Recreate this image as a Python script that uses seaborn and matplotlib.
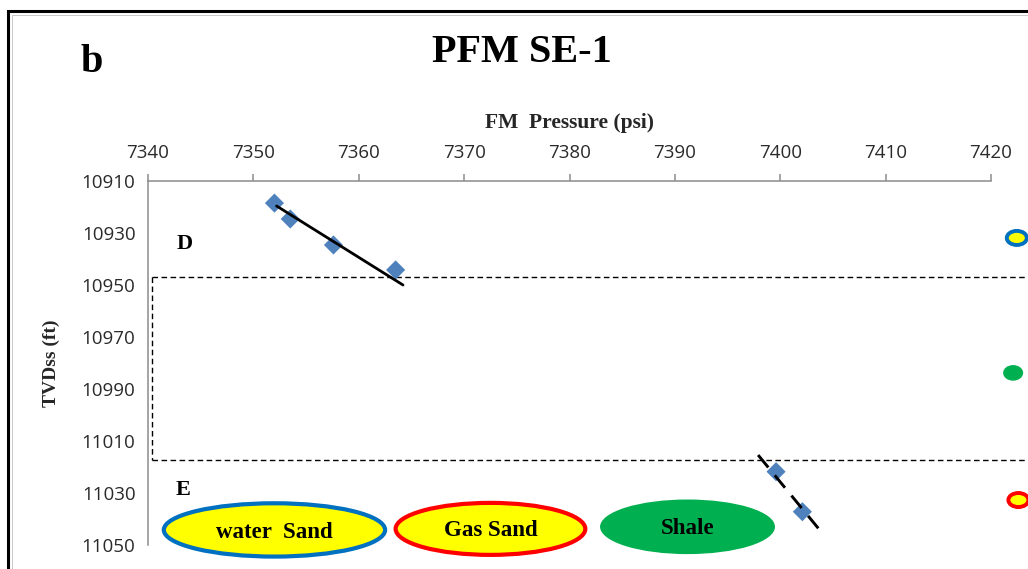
import matplotlib
matplotlib.use("Agg")
import matplotlib.pyplot as plt
from matplotlib.patches import Ellipse, Rectangle
import seaborn as sns
import pandas as pd

# Formation pressure measurements (psi) against true vertical depth subsea (ft)
pressure_D = [7352.0, 7353.5, 7357.6, 7363.5]
tvd_D = [10918.5, 10924.6, 10934.6, 10944.2]
pressure_E = [7399.6, 7402.1]
tvd_E = [11021.8, 11037.2]

# Pressure gradient lines through each zone
trend_D_p = [7352.2, 7364.2]
trend_D_z = [10919.6, 10950.0]
trend_E_p = [7397.9, 7404.0]
trend_E_z = [11015.4, 11045.5]

# Shale interval between zones D and E
shale_top = 10947.0
shale_base = 11017.3

x_ticks = [7340, 7350, 7360, 7370, 7380, 7390, 7400, 7410, 7420]
y_ticks = [10910, 10930, 10950, 10970, 10990, 11010, 11030, 11050]

lith_labels = ["water  Sand", "Gas Sand", "Shale"]

sns.set_theme(style="white")
plt.rcParams["font.family"] = ["Open Sans", "DejaVu Sans"]

W, H = 1028, 569
fig = plt.figure(figsize=(W / 100, H / 100), dpi=100)
fig.patch.set_facecolor("white")

ax = fig.add_axes([148 / W, 1 - 545 / H, (991 - 148) / W, (545 - 181) / H])
ax.set_facecolor("none")

df_D = pd.DataFrame({"p": pressure_D, "z": tvd_D})
df_E = pd.DataFrame({"p": pressure_E, "z": tvd_E})
sns.scatterplot(data=df_D, x="p", y="z", marker="D", s=95, color="#4F81BD",
                edgecolor="none", ax=ax, zorder=3)
sns.scatterplot(data=df_E, x="p", y="z", marker="D", s=95, color="#4F81BD",
                edgecolor="none", ax=ax, zorder=3)
sns.lineplot(x=trend_D_p, y=trend_D_z, sort=False, color="black", lw=2.0,
             ax=ax, zorder=4)
sns.lineplot(x=trend_E_p, y=trend_E_z, sort=False, color="black", lw=2.1,
             ax=ax, zorder=4, linestyle=(0, (5.5, 3.5)))

ax.set_xlim(x_ticks[0], x_ticks[-1])
ax.set_ylim(y_ticks[-1], y_ticks[0])
ax.set_xticks(x_ticks)
ax.set_yticks(y_ticks)
ax.xaxis.tick_top()
ax.xaxis.set_label_position("top")
for s in ["right", "bottom"]:
    ax.spines[s].set_visible(False)
for s in ["top", "left"]:
    ax.spines[s].set_color("#8C8C8C")
    ax.spines[s].set_linewidth(1.1)
ax.tick_params(axis="both", which="major", direction="out", length=5,
               width=1.1, color="#8C8C8C", labelsize=13.5, labelcolor="#2A2A2A")
ax.tick_params(axis="x", pad=9)
ax.tick_params(axis="y", pad=4)

ax.set_xlabel("FM  Pressure (psi)", fontfamily="Liberation Serif",
              fontweight="bold", fontsize=15.5, labelpad=11)
ax.set_ylabel("TVDss (ft)", fontfamily="Liberation Serif",
              fontweight="bold", fontsize=14, labelpad=16)

# Dashed box marking the shale interval
dash = dict(color="black", lw=1.0, linestyle=(0, (4, 2.5)), clip_on=False, zorder=2)
x_box = 7340.35
ax.plot([x_box, 7430], [shale_top, shale_top], **dash)
ax.plot([x_box, 7430], [shale_base, shale_base], **dash)
ax.plot([x_box, x_box], [shale_top, shale_base], **dash)

# Zone labels
serif = dict(fontfamily="Liberation Serif", fontweight="bold", color="black")
ax.text(7343.5, 10934.3, "D", fontsize=16, ha="center", va="center", **serif)
ax.text(7343.3, 11028.8, "E", fontsize=16, ha="center", va="center", **serif)

# Lithology key
key = [
    (7352.0, 11044.2, 21.0, 20.5, "#FFFF00", "#0070C0", 3.0),
    (7372.5, 11043.8, 18.0, 20.0, "#FFFF00", "#FF0000", 3.0),
    (7391.2, 11043.0, 16.6, 21.0, "#00B050", "none", 0),
]
for (cx, cy, w, h, fc, ec, lw), lab in zip(key, lith_labels):
    ax.add_patch(Ellipse((cx, cy), w, h, facecolor=fc, edgecolor=ec, lw=lw,
                         zorder=5, clip_on=False))
    ax.text(cx, cy + 0.8, lab, fontsize=16.5, ha="center", va="center",
            zorder=6, **serif)

# Lithology markers beside the depth track
marks = [
    (7422.45, 10931.9, 1.9, 5.4, "#FFFF00", "#0070C0", 2.8),
    (7422.1, 10983.8, 1.9, 6.0, "#00B050", "none", 0),
    (7422.6, 11032.7, 1.9, 5.4, "#FFFF00", "#FF0000", 2.8),
]
for cx, cy, w, h, fc, ec, lw in marks:
    ax.add_patch(Ellipse((cx, cy), w, h, facecolor=fc, edgecolor=ec, lw=lw,
                         zorder=5, clip_on=False))

# Titles
fig.text(522 / W, 1 - 52 / H, "PFM SE-1", fontsize=29, ha="center",
         va="center", **serif)
fig.text(92 / W, 1 - 63 / H, "b", fontsize=29, ha="center", va="center",
         **serif)

# Panel frame
fig.add_artist(Rectangle((8 / W, -0.1), 1.2, 1.1 - 11 / H,
                         transform=fig.transFigure, fill=False,
                         edgecolor="black", lw=2.2))
fig.add_artist(Rectangle((12 / W, -0.1), 1.2, 1.1 - 15 / H,
                         transform=fig.transFigure, fill=False,
                         edgecolor="#C8C8C8", lw=0.7))

fig.savefig("out.png", dpi=100)
